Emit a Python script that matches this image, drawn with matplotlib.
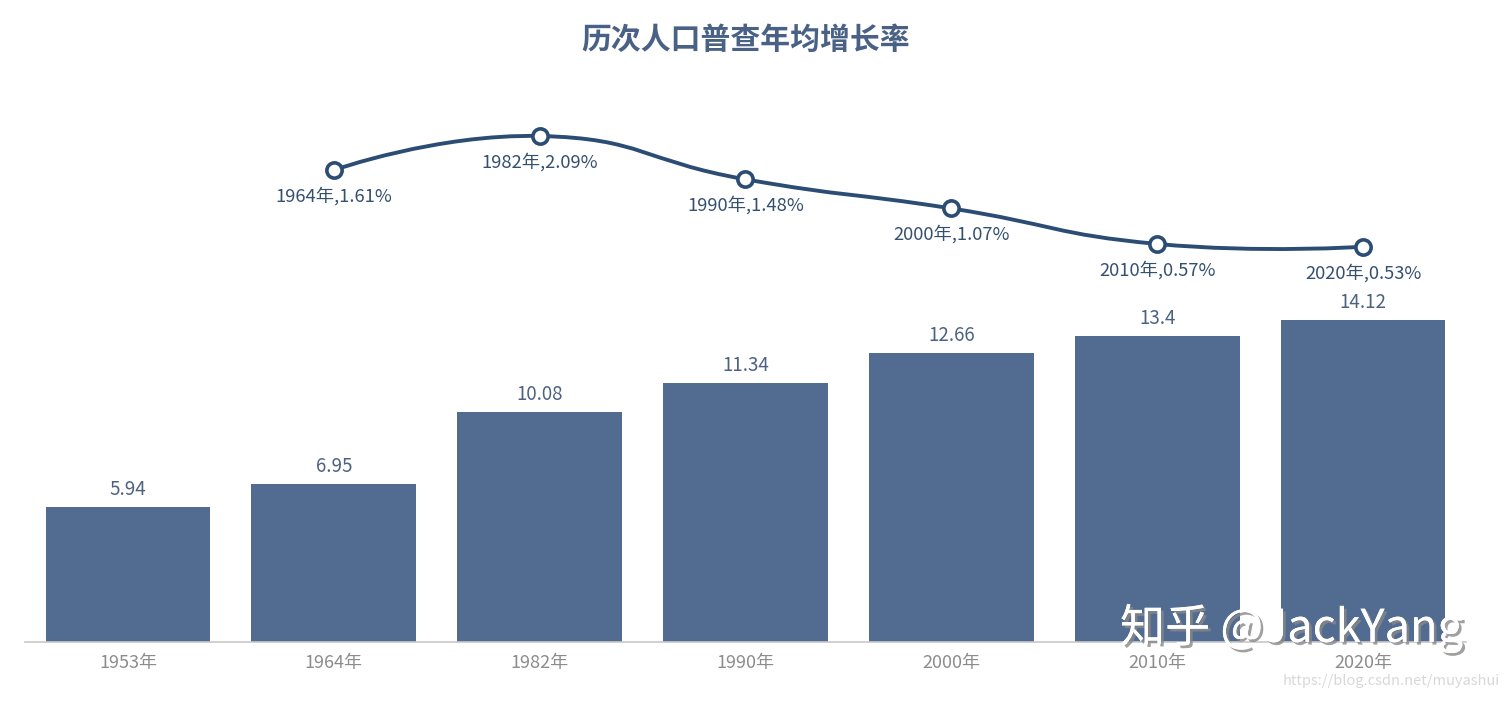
import numpy as np
import matplotlib.pyplot as plt
import matplotlib.patheffects as pe
from matplotlib.path import Path
from matplotlib.patches import PathPatch

plt.rcParams['font.family'] = ['Noto Sans CJK SC', 'DejaVu Sans']

# Daten
jahre = ["1953年", "1964年", "1982年", "1990年", "2000年", "2010年", "2020年"]
bevoelkerung = [5.94, 6.95, 10.08, 11.34, 12.66, 13.4, 14.12]
rate_jahre = ["1964年", "1982年", "1990年", "2000年", "2010年", "2020年"]
wachstum = [1.61, 2.09, 1.48, 1.07, 0.57, 0.53]

BAR_COLOR = "#516b91"
LINE_COLOR = "#2b4d74"

W, H = 1509, 701
fig = plt.figure(figsize=(W / 100, H / 100), dpi=100)

# Layout in Pixeln
x0, x1 = 25, 1466
y_base, y_top = 642, 60
ax = fig.add_axes([x0 / W, (H - y_base) / H, (x1 - x0) / W, (y_base - y_top) / H])

px_per_unit = (y_base - 320) / 14.12
ax.set_ylim(0, (y_base - y_top) / px_per_unit)
ax.set_xlim(-0.5, len(jahre) - 0.5)

x = np.arange(len(jahre))
ax.bar(x, bevoelkerung, width=0.8, color=BAR_COLOR, zorder=2)
for xi, v in zip(x, bevoelkerung):
    ax.annotate(f"{v:g}", xy=(xi, v), xytext=(0, 5), textcoords="offset points",
                ha="center", va="bottom", fontsize=13.5, color="#4d6282")

ax.set_xticks(x)
ax.set_xticklabels(jahre, fontsize=13, color="#8c8c8c")
ax.tick_params(axis="x", length=0, pad=8.5)
ax.set_yticks([])
for s in ["top", "right", "left"]:
    ax.spines[s].set_visible(False)
ax.spines["bottom"].set_color("#c8c8c8")
ax.spines["bottom"].set_linewidth(1.2)

# Zweite Achse fuer die Wachstumsrate
ax2 = ax.twinx()
zero_px, rate_px = 284.4, 71.0
ax2.set_ylim((zero_px - y_base) / rate_px, (zero_px - y_top) / rate_px)
ax2.set_yticks([])
for s in ax2.spines.values():
    s.set_visible(False)

xr = np.array([jahre.index(j) for j in rate_jahre], dtype=float)
yr = np.array(wachstum)

# geglaettete Linie (Bezier wie bei echarts smooth)
sx, sy = (x1 - x0) / len(jahre), rate_px
pts = np.column_stack([xr * sx, yr * sy])
smooth = 0.5
verts = [pts[0]]
codes = [Path.MOVETO]
cps = []
for i in range(len(pts)):
    if i == 0 or i == len(pts) - 1:
        cps.append((pts[i], pts[i]))
        continue
    prev, nxt = pts[i - 1], pts[i + 1]
    v = nxt - prev
    d0 = np.linalg.norm(pts[i] - prev)
    d1 = np.linalg.norm(nxt - pts[i])
    r0 = d0 / (d0 + d1)
    r1 = d1 / (d0 + d1)
    cps.append((pts[i] - v * r0 * smooth, pts[i] + v * r1 * smooth))
for i in range(len(pts) - 1):
    verts += [cps[i][1], cps[i + 1][0], pts[i + 1]]
    codes += [Path.CURVE4] * 3
verts = np.array(verts) / np.array([sx, sy])
ax2.add_patch(PathPatch(Path(verts, codes), fill=False, edgecolor=LINE_COLOR,
                        lw=2.8, zorder=3, capstyle="round"))
ax2.plot(xr, yr, "o", ms=11, mfc="white", mec=LINE_COLOR, mew=2.6, zorder=4)
for xi, j, v in zip(xr, rate_jahre, yr):
    ax2.annotate(f"{j},{v:.2f}%", xy=(xi, v), xytext=(0, -12), textcoords="offset points",
                 ha="center", va="top", fontsize=13.2, color="#34506f")

fig.text(746 / W, 1 - 40 / H, "历次人口普查年均增长率", ha="center", va="center",
         fontsize=21.5, fontweight="bold", color="#4a6186")

# Wasserzeichen
fig.text(1120 / W, 1 - 628 / H, "知乎 @JackYang", ha="left", va="center",
         fontsize=32.5, color="white",
         path_effects=[pe.withSimplePatchShadow(offset=(2, -2), shadow_rgbFace="#888888", alpha=0.8),
                       pe.Normal()])
fig.text(1500 / W, 1 - 681 / H, "https://blog.csdn.net/muyashui", ha="right", va="center",
         fontsize=10.5, color="#d8d8d8")

fig.savefig("out.png", dpi=100)
